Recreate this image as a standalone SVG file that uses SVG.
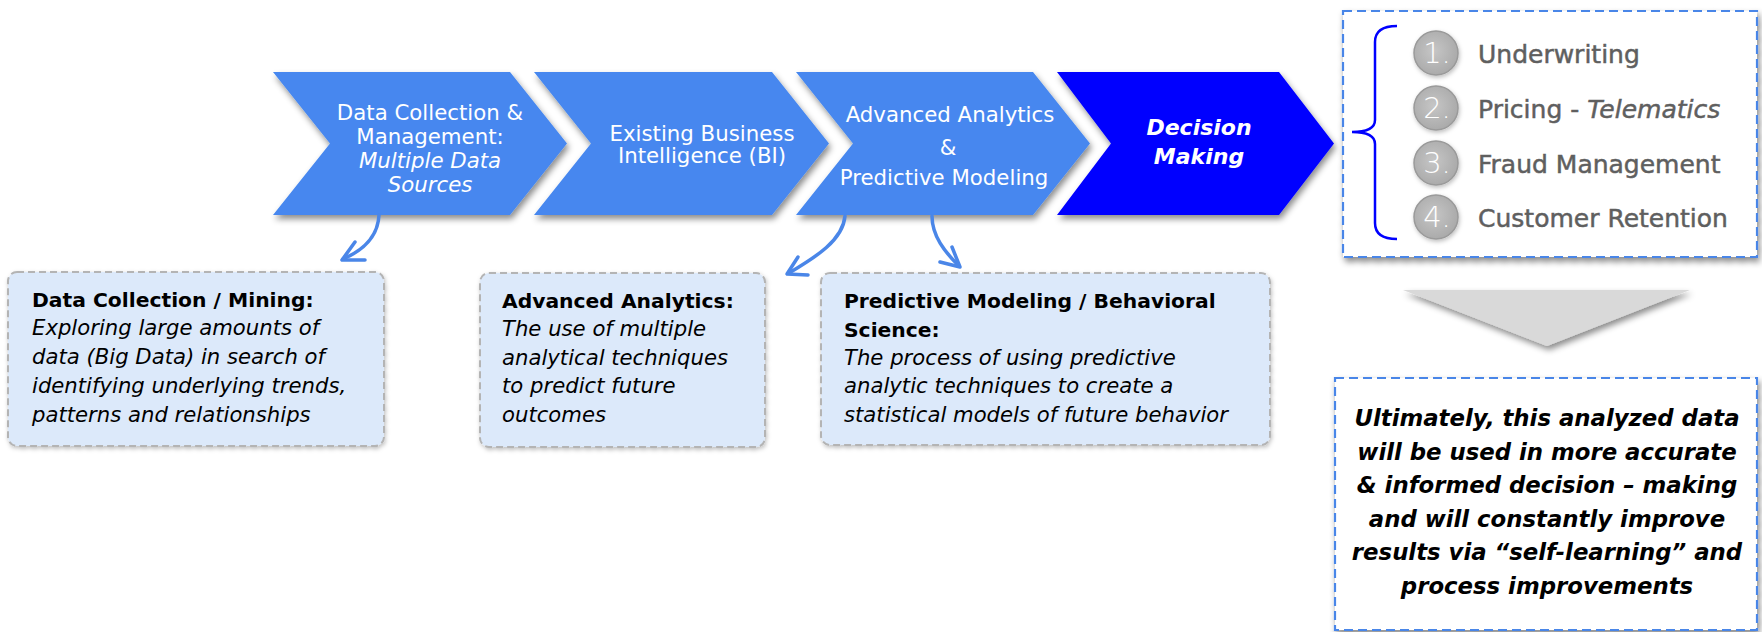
<svg xmlns="http://www.w3.org/2000/svg" width="1762" height="632" viewBox="0 0 1762 632">
<defs>
<filter id="sh" x="-10%" y="-10%" width="130%" height="140%">
<feDropShadow dx="2" dy="4" stdDeviation="3" flood-color="#000" flood-opacity="0.45"/>
</filter>
<filter id="shl" x="-10%" y="-10%" width="130%" height="140%">
<feDropShadow dx="1" dy="2" stdDeviation="2" flood-color="#000" flood-opacity="0.25"/>
</filter>
<radialGradient id="cg" cx="0.45" cy="0.45" r="0.6">
<stop offset="0" stop-color="#c6c6c6"/>
<stop offset="1" stop-color="#a8a8a8"/>
</radialGradient>
</defs>
<style>
text{font-family:"DejaVu Sans","Liberation Sans",sans-serif}
.chev{fill:#4687ef}
.cw{fill:#fff;font-size:21.3px;text-anchor:middle}
.box{fill:#dce9fa;stroke:#b4b4b4;stroke-width:2;stroke-dasharray:7 4}
.bt{font-size:21.2px;fill:#000}
.tt{font-weight:700;font-size:20.3px}
.it{font-style:italic}
.conn{fill:none;stroke:#4a86e8;stroke-width:3.5;stroke-linecap:round;stroke-linejoin:round}
.dash{fill:#fff;stroke:#4a86e8;stroke-width:2.2;stroke-dasharray:9 5}
.num{fill:url(#cg);stroke:#9a9a9a;stroke-width:1.5}
.nt{fill:#fff;font-size:29px;text-anchor:middle;font-weight:200}
.lbl{fill:#5f5f5f;font-size:25px;stroke:#5f5f5f;stroke-width:0.5}
.fin{font-size:22.8px;font-weight:700;font-style:italic;text-anchor:middle;fill:#000}
</style>

<g id="chevron1">
<polygon class="chev" filter="url(#sh)" points="273,72 510,72 567,143.5 510,215 273,215 330,143.5"/>
<text class="cw" x="430" y="120">Data Collection &amp;</text>
<text class="cw" x="430" y="144">Management:</text>
<text class="cw it" x="430" y="168">Multiple Data</text>
<text class="cw it" x="430" y="192">Sources</text>
</g>
<g id="chevron2">
<polygon class="chev" filter="url(#sh)" points="534,72 772,72 829,143.5 772,215 534,215 591,143.5"/>
<text class="cw" x="702" y="141">Existing Business</text>
<text class="cw" x="702" y="163">Intelligence (BI)</text>
</g>
<g id="chevron3">
<polygon class="chev" filter="url(#sh)" points="796,72 1033,72 1090,143.5 1033,215 796,215 853,143.5"/>
<text class="cw" x="950" y="122">Advanced Analytics</text>
<text class="cw" x="948" y="155">&amp;</text>
<text class="cw" x="944" y="185">Predictive Modeling</text>
</g>
<g id="chevron4">
<polygon fill="#0000ff" filter="url(#sh)" points="1057,72 1279,72 1334,143.5 1279,215 1057,215 1111,143.5"/>
<text class="cw it" x="1199" y="135" style="font-size:22px;font-weight:700">Decision</text>
<text class="cw it" x="1199" y="164" style="font-size:22px;font-weight:700">Making</text>
</g>

<g id="uses">
<rect class="dash" filter="url(#sh)" x="1343" y="11" width="414" height="246"/>
<path d="M1397,26 Q1375,26 1375,42 L1375,120 Q1375,132 1352,132 Q1375,132 1375,144 L1375,223 Q1375,239 1397,239" fill="none" stroke="#0000ff" stroke-width="2.5"/>
<circle class="num" filter="url(#shl)" cx="1436" cy="53" r="22"/>
<circle class="num" filter="url(#shl)" cx="1436" cy="108" r="22"/>
<circle class="num" filter="url(#shl)" cx="1436" cy="163" r="22"/>
<circle class="num" filter="url(#shl)" cx="1436" cy="217" r="22"/>
<text class="nt" x="1437" y="63">1.</text>
<text class="nt" x="1437" y="118">2.</text>
<text class="nt" x="1437" y="173">3.</text>
<text class="nt" x="1437" y="227">4.</text>
<text class="lbl" x="1478" y="63">Underwriting</text>
<text class="lbl" x="1478" y="118">Pricing - <tspan class="it">Telematics</tspan></text>
<text class="lbl" x="1478" y="173">Fraud Management</text>
<text class="lbl" x="1478" y="227">Customer Retention</text>
</g>

<g id="down-arrow">
<polygon fill="#d9d9d9" filter="url(#sh)" points="1403,290 1690,290 1547,346"/>
</g>

<g id="outcome">
<rect class="dash" filter="url(#sh)" x="1335" y="378" width="422" height="252"/>
<text class="fin" x="1547" y="426">Ultimately, this analyzed data</text>
<text class="fin" x="1547" y="459.5">will be used in more accurate</text>
<text class="fin" x="1547" y="493">&amp; informed decision – making</text>
<text class="fin" x="1547" y="526.5">and will constantly improve</text>
<text class="fin" x="1547" y="560">results via “self-learning” and</text>
<text class="fin" x="1547" y="593.5">process improvements</text>
</g>

<g id="box-mining">
<rect class="box" filter="url(#shl)" x="8" y="272" width="376" height="174" rx="9"/>
<text class="bt tt" x="32" y="307">Data Collection / Mining:</text>
<text class="bt it" x="32" y="335">Exploring large amounts of</text>
<text class="bt it" x="32" y="364">data (Big Data) in search of</text>
<text class="bt it" x="32" y="393">identifying underlying trends,</text>
<text class="bt it" x="32" y="422">patterns and relationships</text>
</g>
<g id="box-analytics">
<rect class="box" filter="url(#shl)" x="480" y="273" width="285" height="174" rx="9"/>
<text class="bt tt" x="502" y="308">Advanced Analytics:</text>
<text class="bt it" x="502" y="336">The use of multiple</text>
<text class="bt it" x="502" y="365">analytical techniques</text>
<text class="bt it" x="502" y="393">to predict future</text>
<text class="bt it" x="502" y="422">outcomes</text>
</g>
<g id="box-predictive">
<rect class="box" filter="url(#shl)" x="821" y="273" width="449" height="172" rx="9"/>
<text class="bt tt" x="844" y="308">Predictive Modeling / Behavioral</text>
<text class="bt tt" x="844" y="337">Science:</text>
<text class="bt it" x="844" y="365">The process of using predictive</text>
<text class="bt it" x="844" y="393">analytic techniques to create a</text>
<text class="bt it" x="844" y="422">statistical models of future behavior</text>
</g>

<g id="connectors">
<path class="conn" d="M379,215 C378,236 364,250 343,259"/>
<polyline class="conn" points="355,242 342,260 365,260"/>
<path class="conn" d="M845,216 C843,240 816,257 789,273"/>
<polyline class="conn" points="798,257 787,274 808,275"/>
<path class="conn" d="M932,216 C932,236 945,252 958,265"/>
<polyline class="conn" points="940,262 960,267 952,247"/>
</g>
</svg>
